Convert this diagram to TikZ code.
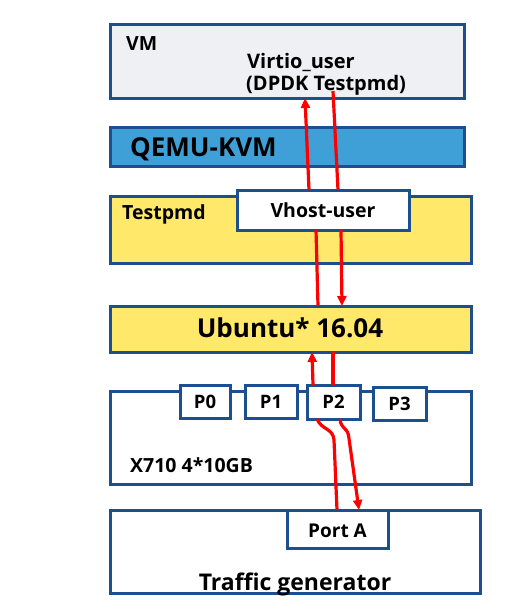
\documentclass[tikz,border=0pt]{standalone}
\usepackage{fontspec}
\setmainfont{Open Sans}
\usetikzlibrary{arrows.meta}
\definecolor{bordc}{HTML}{1B4F8E}
\definecolor{vmfill}{HTML}{EFF0F3}
\definecolor{qemufill}{HTML}{3FA0D8}
\definecolor{yelfill}{HTML}{FFE86A}
\definecolor{redc}{HTML}{FF0000}
\tikzset{
  box/.style={draw=bordc, line width=3pt, anchor=north west, inner sep=0pt, outer sep=0pt},
  lbl/.style={font=\bfseries, inner sep=0pt, text=black},
  flow/.style={draw=redc, line width=3.2pt},
  flowtip/.style={flow, -{Triangle[width=9pt,length=10pt]}},
}
\begin{document}
\begin{tikzpicture}[x=1pt,y=-1pt]
\useasboundingbox[fill=white] (0,0) rectangle (530,600);
% boxes
\node[box, fill=vmfill, minimum width=354pt, minimum height=74pt] (vm) at (110,24) {};
\node[box, fill=qemufill, minimum width=354pt, minimum height=39pt] (qemu) at (110,127) {};
\node[box, fill=yelfill, minimum width=361pt, minimum height=67pt] (tpmd) at (110,196) {};
\node[box, fill=white, minimum width=172pt, minimum height=40pt] (vhost) at (237,190) {};
\node[box, fill=yelfill, minimum width=361pt, minimum height=46pt] (ubuntu) at (110,306) {};
\node[box, fill=white, minimum width=361pt, minimum height=93pt] (nic) at (110,391) {};
\node[box, fill=white, minimum width=50pt, minimum height=33pt] (p0) at (180,385) {};
\node[box, fill=white, minimum width=52pt, minimum height=33pt] (p1) at (245,385) {};
\node[box, fill=white, minimum width=53pt, minimum height=34pt] (p2) at (307,385) {};
\node[box, fill=white, minimum width=53pt, minimum height=33pt] (p3) at (373,387) {};
\node[box, fill=white, minimum width=370pt, minimum height=83pt] (tg) at (110,510) {};
\node[box, fill=white, minimum width=101pt, minimum height=38pt] (porta) at (287,510) {};
% labels
\node[lbl, anchor=base west, font=\fontsize{19.5}{20}\bfseries] (tvm) at (126,50) {VM};
\node[lbl, anchor=base west, font=\fontsize{20}{22}\bfseries] (tvirt) at (247,68) {Virtio\_user};
\node[lbl, anchor=base west, font=\fontsize{20}{22}\bfseries] (tdpdk) at (246,90) {(DPDK Testpmd)};
\node[lbl, anchor=base west, font=\fontsize{26}{28}\bfseries] (tqemu) at (130,156) {QEMU-KVM};
\node[lbl, anchor=base west, font=\fontsize{19.5}{20}\bfseries] (ttpmd) at (122,219) {Testpmd};
\node[lbl, anchor=base, font=\fontsize{19.5}{20}\bfseries] (tvhost) at (323,217) {Vhost-user};
\node[lbl, anchor=base, font=\fontsize{26}{28}\bfseries] (tubu) at (290,337) {Ubuntu* 16.04};
\node[lbl, anchor=base, font=\fontsize{18.5}{20}\bfseries] (tp0) at (205,408) {P0};
\node[lbl, anchor=base, font=\fontsize{18.5}{20}\bfseries] (tp1) at (271,408) {P1};
\node[lbl, anchor=base, font=\fontsize{18.5}{20}\bfseries] (tp2) at (333.5,408) {P2};
\node[lbl, anchor=base, font=\fontsize{18.5}{20}\bfseries] (tp3) at (399.5,410) {P3};
\node[lbl, anchor=base west, font=\fontsize{19.5}{20}\bfseries] (tnic) at (130,472) {X710 4*10GB};
\node[lbl, anchor=base, font=\fontsize{19}{20}\bfseries] (tporta) at (337.5,537) {Port A};
\node[lbl, anchor=base, font=\fontsize{23}{25}\bfseries] (ttg) at (295,590) {Traffic generator};
% flows: upward path
\draw[flow] ([xshift=-0.5pt]porta.north) -- ([xshift=-3.5pt,yshift=70pt]porta.north)
  .. controls ([xshift=-4.5pt,yshift=82pt]porta.north) and ([xshift=-16pt,yshift=80pt]porta.north) .. ([xshift=-16.5pt]p2.south);
\draw[flowtip] ([xshift=-20.5pt]p2.north) -- ([xshift=21.5pt]ubuntu.south);
\draw[flow] ([xshift=27.5pt]ubuntu.north) -- ([xshift=-7pt]vhost.south);
\draw[flowtip] ([xshift=-14pt]vhost.north) -- ([xshift=18pt]vm.south);
% flows: downward path
\draw[flow] ([xshift=46pt,yshift=7pt]vm.south) -- ([xshift=15pt]vhost.north);
\draw[flowtip] ([xshift=18pt]vhost.south) -- ([xshift=51.5pt]ubuntu.north);
\draw[flow] ([xshift=42.5pt]ubuntu.south) -- ([xshift=-0.5pt]p2.north);
\draw[flowtip] ([xshift=6.5pt]p2.south) .. controls ([xshift=7.5pt,yshift=-10pt]p2.south) and ([xshift=13pt,yshift=-8pt]p2.south) .. ([xshift=15pt,yshift=-16pt]p2.south)
  -- ([xshift=21.5pt]porta.north);
\end{tikzpicture}
\end{document}
